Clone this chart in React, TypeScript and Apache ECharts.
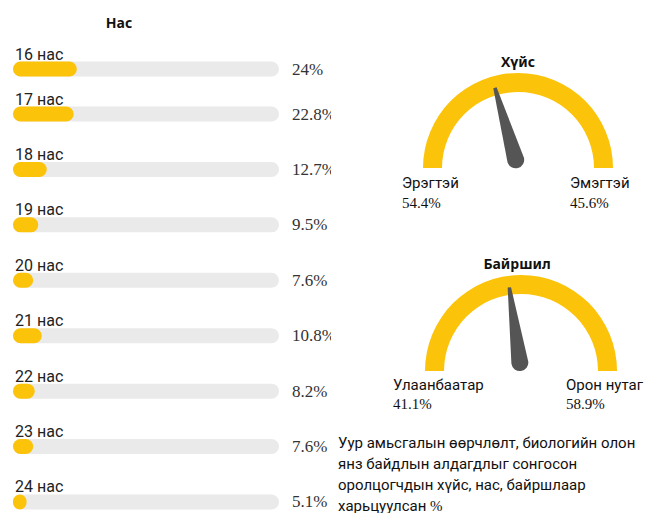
import React, { useEffect, useRef } from "react";
import * as echarts from "echarts";

const ageLabels = ["16 нас", "17 нас", "18 нас", "19 нас", "20 нас", "21 нас", "22 нас", "23 нас", "24 нас"];
const agePct = [24, 22.8, 12.7, 9.5, 7.6, 10.8, 8.2, 7.6, 5.1];

const genderNames = ["Эрэгтэй", "Эмэгтэй"];
const genderPct = [54.4, 45.6];
const genderNeedle = 41.1;

const locationNames = ["Улаанбаатар", "Орон нутаг"];
const locationPct = [41.1, 58.9];
const locationNeedle = 45.6;

const YELLOW = "#FCC30B";
const TRACK = "#EAEAEA";
const SANS = "Roboto, 'Noto Sans', sans-serif";
const SERIF = "'Liberation Serif', 'Times New Roman', serif";

const pointerPath = "path://M8,0 L12,0 L20,90 A10,10 0 0 1 0,90 Z";

function barSeries(idx: number, values: number[], offset: number) {
  return {
    type: "bar",
    xAxisIndex: idx,
    yAxisIndex: idx,
    barWidth: 15,
    data: values,
    itemStyle: { color: YELLOW, borderRadius: 8 },
    showBackground: true,
    backgroundStyle: { color: TRACK, borderRadius: 8 },
    label: {
      show: true,
      position: [279, "50%"],
      verticalAlign: "middle",
      align: "left",
      fontFamily: SERIF,
      fontSize: 17,
      color: "#333",
      formatter: (p: any) => agePct[p.dataIndex + offset] + "%",
    },
  };
}

function gauge(center: number[], radius: number, value: number) {
  return {
    type: "gauge",
    center,
    radius,
    startAngle: 180,
    endAngle: 0,
    min: 0,
    max: 100,
    axisLine: { lineStyle: { width: 19, color: [[1, YELLOW]] } },
    splitLine: { show: false },
    axisTick: { show: false },
    axisLabel: { show: false },
    pointer: { icon: pointerPath, length: "88%", width: 17, itemStyle: { color: "#555555" } },
    anchor: { show: false },
    title: { show: false },
    detail: { show: false },
    data: [{ value }],
  };
}

function txt(x: number, y: number, text: string, font: string, size: number, weight = "normal", align = "left") {
  return {
    type: "text",
    x,
    y,
    style: { text, fontFamily: font, fontSize: size, fontWeight: weight, fill: "#111", align, verticalAlign: "middle" },
  };
}

export default function App() {
  const leftRef = useRef<HTMLDivElement>(null);
  const rightRef = useRef<HTMLDivElement>(null);

  useEffect(() => {
    const left = echarts.init(leftRef.current!, undefined, { renderer: "svg" });
    const right = echarts.init(rightRef.current!, undefined, { renderer: "svg" });

    const first = ageLabels.slice(0, 1);
    const rest = ageLabels.slice(1);
    const yAxisBase = {
      type: "category",
      inverse: true,
      axisLine: { show: false },
      axisTick: { show: false },
      axisLabel: {
        inside: true,
        margin: 0,
        verticalAlign: "bottom",
        padding: [0, 0, 7, 2],
        fontFamily: SANS,
        fontSize: 16,
        color: "#222",
      },
    };
    const xAxisBase = { type: "value", min: 0, max: 100, show: false };

    left.setOption({
      animation: false,
      grid: [
        { left: 13, width: 266, top: 49, height: 40 },
        { left: 13, width: 266, top: 86.3, height: 443.4 },
      ],
      xAxis: [
        { ...xAxisBase, gridIndex: 0 },
        { ...xAxisBase, gridIndex: 1 },
      ],
      yAxis: [
        { ...yAxisBase, gridIndex: 0, data: first },
        { ...yAxisBase, gridIndex: 1, data: rest },
      ],
      series: [barSeries(0, agePct.slice(0, 1), 0), barSeries(1, agePct.slice(1), 1)],
    });

    right.setOption({
      animation: false,
      series: [gauge([518, 168], 95, genderNeedle), gauge([521, 371], 96, locationNeedle)],
      graphic: [
        txt(119, 22, "Нас", "'Noto Sans', sans-serif", 14, "bold", "center"),
        txt(518, 61, "Хүйс", "'Noto Sans', sans-serif", 14, "bold", "center"),
        txt(517, 263, "Байршил", "'Noto Sans', sans-serif", 14, "bold", "center"),
        txt(402, 183, genderNames[0], SANS, 15),
        txt(402, 203, genderPct[0] + "%", SERIF, 15),
        txt(570, 183, genderNames[1], SANS, 15),
        txt(570, 203, genderPct[1] + "%", SERIF, 15),
        txt(393, 385, locationNames[0], SANS, 15),
        txt(393, 404, locationPct[0] + "%", SERIF, 15),
        txt(566, 385, locationNames[1], SANS, 15),
        txt(566, 404, locationPct[1] + "%", SERIF, 15),
        {
          type: "text",
          x: 338,
          y: 432.5,
          style: {
            text:
              "{a|Уур амьсгалын өөрчлөлт, биологийн олон}\n{a|янз байдлын алдагдлыг сонгосон}\n{a|оролцогчдын хүйс, нас, байршлаар}\n{a|харьцуулсан }{b|%}",
            fill: "#111",
            verticalAlign: "top",
            rich: {
              a: { fontFamily: SANS, fontSize: 15, lineHeight: 21, fill: "#111" },
              b: { fontFamily: SERIF, fontSize: 15, lineHeight: 21, fill: "#111" },
            },
          },
        },
      ],
    });

    return () => {
      left.dispose();
      right.dispose();
    };
  }, []);

  return (
    <div style={{ position: "fixed", left: 0, top: 0, width: 659, height: 513, background: "#fff", overflow: "hidden" }}>
      <div ref={rightRef} style={{ position: "absolute", left: 0, top: 0, width: 659, height: 513 }} />
      <div ref={leftRef} style={{ position: "absolute", left: 0, top: 0, width: 331, height: 560 }} />
    </div>
  );
}
